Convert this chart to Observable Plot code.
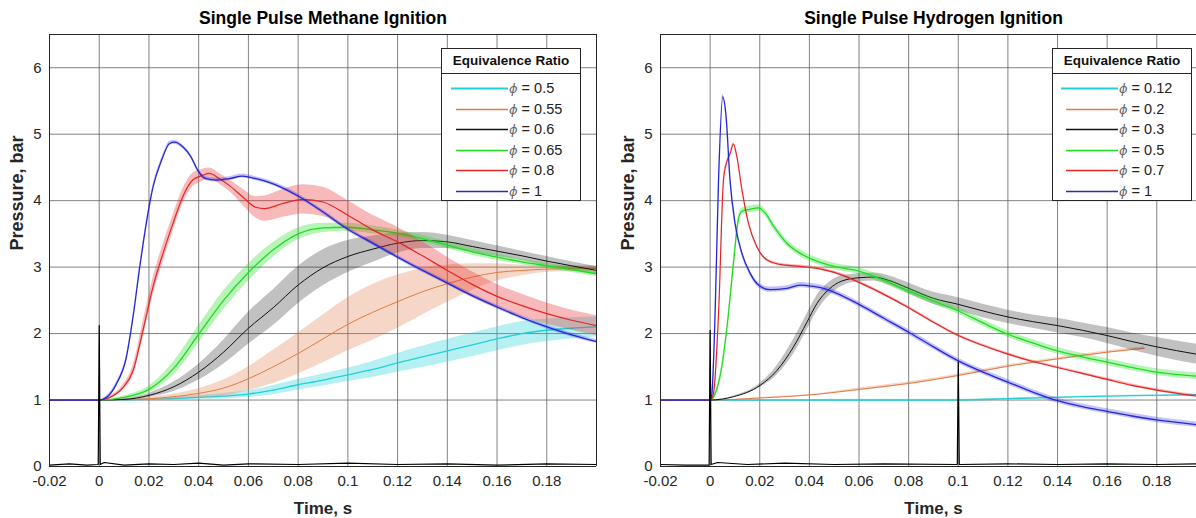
<!DOCTYPE html>
<html><head><meta charset="utf-8">
<script src="https://cdn.jsdelivr.net/npm/d3@7"></script>
<script src="https://cdn.jsdelivr.net/npm/@observablehq/plot@0.6"></script>
<style>
body{margin:0;background:#fff;font-family:"Liberation Sans",Arial,sans-serif;}
#wrap{position:relative;width:1196px;height:518px;overflow:hidden;background:#fff;}
.panel{position:absolute;top:0;}
.legend{position:absolute;background:#fff;border:1px solid #262626;box-sizing:border-box;width:140px;height:153px;}
.legend .ttl{height:24px;line-height:24px;border-bottom:1px solid #262626;text-align:center;font-weight:bold;font-size:13.5px;color:#111;}
.legend .row{position:absolute;height:20px;line-height:20px;font-size:14.5px;color:#222;white-space:nowrap;}
.legend .row i{color:#666;font-family:"DejaVu Sans",sans-serif;font-size:13px;}
.legend .row svg{position:absolute;top:0;left:0;}
</style></head><body><div id="wrap"></div><script>
// ---------- shared ----------
const xTicks = [-0.02, 0, 0.02, 0.04, 0.06, 0.08, 0.1, 0.12, 0.14, 0.16, 0.18];
const yTicks = [0, 1, 2, 3, 4, 5, 6];
const seriesColors = ["#1fd0d6", "#e07b45", "#111111", "#1fdc1f", "#e52525", "#2626d8"];

// ---------- Methane: [time s, pressure bar, band half-width] ----------
const ch4Phi = ["0.5", "0.55", "0.6", "0.65", "0.8", "1"];
const ch4_phi050 = [[-0.02,1,0],[0,1,0],[0.02,1.01,0.01],[0.04,1.04,0.03],[0.05,1.06,0.04],[0.06,1.09,0.05],[0.07,1.15,0.07],[0.08,1.23,0.08],[0.09,1.3,0.09],[0.1,1.38,0.1],[0.11,1.46,0.12],[0.12,1.56,0.14],[0.13,1.65,0.16],[0.14,1.74,0.17],[0.15,1.83,0.18],[0.16,1.92,0.18],[0.17,2.0,0.18],[0.18,2.05,0.17],[0.19,2.08,0.16],[0.2,2.1,0.15]];
const ch4_phi055 = [[-0.02,1,0],[0,1,0],[0.01,1.005,0.005],[0.02,1.02,0.02],[0.03,1.05,0.04],[0.04,1.1,0.07],[0.05,1.18,0.12],[0.06,1.32,0.18],[0.07,1.5,0.25],[0.08,1.7,0.31],[0.09,1.92,0.36],[0.1,2.14,0.4],[0.11,2.32,0.42],[0.12,2.48,0.4],[0.13,2.63,0.35],[0.14,2.75,0.28],[0.15,2.85,0.2],[0.16,2.92,0.13],[0.17,2.95,0.08],[0.18,2.97,0.05],[0.2,2.98,0.04]];
const ch4_phi060 = [[-0.02,1,0],[0,1,0],[0.01,1.01,0.01],[0.02,1.07,0.03],[0.03,1.2,0.07],[0.04,1.42,0.12],[0.05,1.72,0.18],[0.06,2.08,0.24],[0.07,2.39,0.27],[0.08,2.73,0.28],[0.09,2.99,0.27],[0.1,3.16,0.24],[0.11,3.27,0.2],[0.12,3.36,0.15],[0.13,3.4,0.12],[0.14,3.38,0.1],[0.15,3.31,0.09],[0.16,3.24,0.08],[0.17,3.17,0.07],[0.18,3.09,0.07],[0.19,3.02,0.06],[0.2,2.95,0.06]];
const ch4_phi065 = [[-0.02,1,0],[0,1,0],[0.01,1.04,0.02],[0.02,1.16,0.05],[0.03,1.48,0.1],[0.04,1.99,0.13],[0.05,2.5,0.14],[0.06,2.92,0.13],[0.07,3.26,0.11],[0.08,3.5,0.09],[0.09,3.59,0.07],[0.1,3.6,0.06],[0.11,3.56,0.06],[0.12,3.51,0.05],[0.13,3.43,0.05],[0.14,3.33,0.05],[0.15,3.23,0.05],[0.16,3.15,0.05],[0.17,3.08,0.04],[0.18,3.02,0.04],[0.19,2.96,0.04],[0.2,2.9,0.04]];
const ch4_phi080 = [[-0.02,1,0],[0,1,0],[0.0043,1.04,0.02],[0.0096,1.19,0.04],[0.0136,1.44,0.08],[0.0176,2.05,0.12],[0.0216,2.7,0.13],[0.0256,3.2,0.13],[0.0296,3.65,0.12],[0.0336,4.06,0.11],[0.0376,4.31,0.1],[0.0416,4.38,0.09],[0.0443,4.41,0.08],[0.0483,4.33,0.08],[0.0523,4.23,0.09],[0.0576,4.06,0.12],[0.063,3.9,0.16],[0.0665,3.88,0.19],[0.074,3.96,0.21],[0.082,4.02,0.22],[0.09,3.98,0.22],[0.1,3.78,0.22],[0.11,3.56,0.22],[0.12,3.38,0.22],[0.13,3.17,0.21],[0.14,2.95,0.2],[0.15,2.74,0.19],[0.16,2.56,0.18],[0.17,2.42,0.17],[0.18,2.3,0.16],[0.19,2.2,0.15],[0.2,2.12,0.15]];
const ch4_phi100 = [[-0.02,1,0],[0,1,0],[0.0029,1.04,0.02],[0.0069,1.24,0.03],[0.0109,1.64,0.03],[0.0136,2.25,0.03],[0.0163,3.0,0.03],[0.0189,3.65,0.03],[0.0216,4.2,0.03],[0.025,4.6,0.03],[0.0283,4.86,0.03],[0.0303,4.88,0.03],[0.0336,4.81,0.03],[0.0369,4.66,0.03],[0.0396,4.46,0.03],[0.0429,4.33,0.03],[0.047,4.31,0.03],[0.0523,4.33,0.03],[0.0576,4.37,0.03],[0.063,4.33,0.03],[0.068,4.28,0.03],[0.08,4.07,0.03],[0.09,3.83,0.03],[0.1,3.57,0.03],[0.11,3.36,0.03],[0.12,3.15,0.03],[0.13,2.95,0.03],[0.14,2.76,0.03],[0.15,2.57,0.03],[0.16,2.4,0.03],[0.17,2.24,0.03],[0.18,2.1,0.03],[0.19,1.98,0.03],[0.2,1.88,0.03]];
const ch4Trigger = [[-0.02,0.02],[-0.012,0.04],[-0.005,0.02],[-0.0004,0.03],[0,2.12],[0.0004,0.03],[0.002,0.06],[0.01,0.02],[0.02,0.04],[0.03,0.03],[0.04,0.05],[0.05,0.02],[0.06,0.04],[0.08,0.03],[0.1,0.05],[0.12,0.03],[0.14,0.04],[0.16,0.02],[0.18,0.04],[0.2,0.03]];

// ---------- Hydrogen ----------
const h2Phi = ["0.12", "0.2", "0.3", "0.5", "0.7", "1"];
const h2_phi012 = [[-0.02,1,0],[0,1,0],[0.05,1.0,0.01],[0.1,1.0,0.01],[0.12,1.02,0.01],[0.14,1.04,0.01],[0.16,1.06,0.01],[0.18,1.07,0.01],[0.196,1.08,0.01]];
const h2_phi020 = [[-0.02,1,0],[0,1,0],[0.02,1.03,0.01],[0.044,1.09,0.01],[0.06,1.16,0.02],[0.08,1.25,0.02],[0.1,1.37,0.02],[0.12,1.51,0.02],[0.14,1.62,0.02],[0.16,1.72,0.02],[0.175,1.78,0.02]];
const h2_phi030 = [[-0.02,1,0],[0,1,0],[0.0094,1.05,0.01],[0.0201,1.22,0.03],[0.0268,1.44,0.07],[0.0336,1.8,0.11],[0.039,2.17,0.12],[0.043,2.45,0.12],[0.048,2.67,0.1],[0.053,2.79,0.08],[0.06,2.84,0.06],[0.066,2.85,0.06],[0.072,2.8,0.07],[0.08,2.68,0.08],[0.09,2.53,0.09],[0.1,2.44,0.1],[0.11,2.34,0.1],[0.12,2.25,0.1],[0.13,2.18,0.1],[0.14,2.12,0.11],[0.15,2.05,0.11],[0.16,1.97,0.12],[0.17,1.88,0.13],[0.18,1.8,0.14],[0.196,1.69,0.15]];
const h2_phi050 = [[-0.02,1,0],[0,1,0],[0.002,1.09,0.02],[0.0047,1.5,0.03],[0.0074,2.3,0.04],[0.0094,3.06,0.05],[0.0114,3.72,0.05],[0.0128,3.84,0.05],[0.0161,3.87,0.05],[0.0195,3.89,0.05],[0.0221,3.82,0.05],[0.0255,3.62,0.05],[0.0309,3.36,0.05],[0.0362,3.21,0.05],[0.043,3.09,0.05],[0.05,3.01,0.05],[0.06,2.94,0.05],[0.07,2.8,0.05],[0.08,2.64,0.05],[0.09,2.49,0.05],[0.1,2.34,0.05],[0.11,2.16,0.05],[0.12,1.99,0.05],[0.13,1.86,0.05],[0.14,1.74,0.05],[0.15,1.65,0.05],[0.16,1.57,0.05],[0.17,1.49,0.05],[0.18,1.42,0.05],[0.196,1.36,0.05]];
const h2_phi070 = [[-0.02,1,0],[0,1,0],[0.0013,1.09,0.02],[0.0034,2.3,0.02],[0.0054,4.32,0.02],[0.0067,4.58,0.02],[0.008,4.7,0.02],[0.0094,4.85,0.02],[0.0107,4.68,0.02],[0.0128,4.17,0.02],[0.0154,3.67,0.02],[0.0188,3.31,0.02],[0.0228,3.11,0.02],[0.0282,3.04,0.02],[0.0362,3.01,0.02],[0.0446,2.97,0.02],[0.05,2.92,0.02],[0.06,2.77,0.02],[0.07,2.59,0.02],[0.08,2.39,0.02],[0.09,2.17,0.02],[0.1,1.97,0.02],[0.11,1.82,0.02],[0.12,1.69,0.02],[0.13,1.58,0.02],[0.14,1.49,0.02],[0.15,1.4,0.02],[0.16,1.31,0.02],[0.17,1.22,0.02],[0.18,1.15,0.02],[0.196,1.06,0.02]];
const h2_phi100 = [[-0.02,1,0],[0,1,0],[0.0007,1.09,0.03],[0.002,2.3,0.04],[0.0034,4.32,0.04],[0.0051,5.56,0.04],[0.0064,5.28,0.04],[0.008,4.32,0.04],[0.01,3.67,0.04],[0.0128,3.21,0.04],[0.0161,2.91,0.04],[0.0195,2.73,0.04],[0.0242,2.66,0.04],[0.0309,2.68,0.04],[0.0362,2.73,0.04],[0.0416,2.71,0.04],[0.0446,2.69,0.04],[0.05,2.62,0.04],[0.06,2.44,0.04],[0.07,2.23,0.04],[0.08,2.02,0.04],[0.09,1.8,0.04],[0.1,1.59,0.04],[0.11,1.42,0.04],[0.12,1.27,0.04],[0.13,1.12,0.04],[0.14,0.99,0.04],[0.15,0.9,0.04],[0.16,0.83,0.04],[0.17,0.76,0.04],[0.18,0.7,0.04],[0.196,0.63,0.04]];
const h2Trigger = [[-0.02,0.03],[-0.01,0.02],[-0.0004,0.02],[0,2.05],[0.0004,0.03],[0.003,0.06],[0.015,0.03],[0.03,0.05],[0.05,0.03],[0.07,0.04],[0.0996,0.03],[0.1,1.57],[0.1004,0.03],[0.12,0.04],[0.14,0.03],[0.16,0.04],[0.18,0.03],[0.196,0.04]];

const ch4Series = [ch4_phi050, ch4_phi055, ch4_phi060, ch4_phi065, ch4_phi080, ch4_phi100];
const h2Series = [h2_phi012, h2_phi020, h2_phi030, h2_phi050, h2_phi070, h2_phi100];
const lineWidths = [1.3, 1, 1, 1.3, 1.2, 1.3];
const bandOpacity = [0.32, 0.3, 0.26, 0.32, 0.32, 0.28];

const fmtX = d => d === 0 ? "0" : String(Math.round(d * 100) / 100);
const fmtY = d => String(d);
const INK = "#262626";

function panel({series, trigger, title, xmax, marginLeft, marginRight, left, titleDx, showRight}) {
  const marks = [
    Plot.gridX(xTicks, {stroke: "#5a5a5a", strokeOpacity: 0.75, strokeWidth: 1}),
    Plot.gridY(yTicks, {stroke: "#5a5a5a", strokeOpacity: 0.75, strokeWidth: 1})
  ];
  series.forEach((s, i) => {
    marks.push(Plot.areaY(s, {x: d => d[0], y1: d => d[1] - d[2], y2: d => d[1] + d[2], curve: "monotone-x", fill: seriesColors[i], fillOpacity: bandOpacity[i]}));
    marks.push(Plot.line(s, {x: d => d[0], y: d => d[1], curve: "monotone-x", stroke: seriesColors[i], strokeWidth: lineWidths[i]}));
  });
  marks.push(Plot.line(trigger, {x: d => d[0], y: d => d[1], stroke: "#000", strokeWidth: 1.2}));
  marks.push(Plot.ruleY([6.5], {stroke: INK}));
  marks.push(Plot.ruleY([0], {stroke: INK}));
  marks.push(Plot.ruleX([-0.02], {stroke: INK}));
  if (showRight) marks.push(Plot.ruleX([xmax], {stroke: INK}));
  marks.push(Plot.axisX(xTicks, {tickSize: 0, tickPadding: 9, fontSize: 15, tickFormat: fmtX, label: null, color: INK}));
  marks.push(Plot.axisY(yTicks, {tickSize: 0, tickPadding: 8, fontSize: 15, tickFormat: fmtY, label: null, color: INK}));
  marks.push(Plot.text([title], {frameAnchor: "top", dy: -16, dx: titleDx, lineAnchor: "middle", fontWeight: "bold", fontSize: 17.5, fill: "#000", text: d => d}));
  marks.push(Plot.text(["Time, s"], {frameAnchor: "bottom", dy: 42, dx: titleDx, lineAnchor: "middle", fontWeight: "bold", fontSize: 17, fill: INK, text: d => d}));
  marks.push(Plot.text(["Pressure, bar"], {frameAnchor: "left", dx: -32, rotate: -90, lineAnchor: "middle", fontWeight: "bold", fontSize: 18, fill: INK, text: d => d}));
  const svg = Plot.plot({
    width: 598, height: 518,
    marginLeft, marginRight, marginTop: 34, marginBottom: 52,
    x: {domain: [-0.02, xmax]},
    y: {domain: [0, 6.5]},
    style: {fontFamily: "'Liberation Sans', Arial, sans-serif", background: "#fff", overflow: "visible"},
    marks
  });
  svg.classList.add("panel");
  svg.style.left = left + "px";
  return svg;
}

function legend(phis, left, top, lineX0, lineX1) {
  const div = document.createElement("div");
  div.className = "legend";
  div.style.left = left + "px";
  div.style.top = top + "px";
  const t = document.createElement("div");
  t.className = "ttl";
  t.textContent = "Equivalence Ratio";
  div.appendChild(t);
  const NS = "http://www.w3.org/2000/svg";
  phis.forEach((p, i) => {
    const row = document.createElement("div");
    row.className = "row";
    row.style.top = (29 + i * 20.6) + "px";
    row.style.left = "0px";
    row.style.width = "138px";
    const sw = document.createElementNS(NS, "svg");
    sw.setAttribute("width", "138");
    sw.setAttribute("height", "20");
    const ln = document.createElementNS(NS, "line");
    ln.setAttribute("x1", i === 0 ? lineX0 - 5 : lineX0);
    ln.setAttribute("x2", lineX1);
    ln.setAttribute("y1", 10.5);
    ln.setAttribute("y2", 10.5);
    ln.setAttribute("stroke", seriesColors[i]);
    ln.setAttribute("stroke-width", i === 0 ? 2 : 1.4);
    sw.appendChild(ln);
    row.appendChild(sw);
    const tx = document.createElement("span");
    tx.style.position = "absolute";
    tx.style.left = (lineX1 + 1) + "px";
    tx.innerHTML = "<i>ϕ</i> = " + p;
    row.appendChild(tx);
    div.appendChild(row);
  });
  return div;
}

const wrap = document.getElementById("wrap");
wrap.appendChild(panel({series: ch4Series, trigger: ch4Trigger, title: "Single Pulse Methane Ignition", xmax: 0.2, marginLeft: 49, marginRight: 2, left: 0, titleDx: 0, showRight: true}));
wrap.appendChild(panel({series: h2Series, trigger: h2Trigger, title: "Single Pulse Hydrogen Ignition", xmax: 0.196, marginLeft: 62, marginRight: 0, left: 598, titleDx: 5, showRight: false}));
wrap.appendChild(legend(ch4Phi, 441, 48, 14, 66));
wrap.appendChild(legend(h2Phi, 1052, 48, 13, 65));
</script></body></html>
